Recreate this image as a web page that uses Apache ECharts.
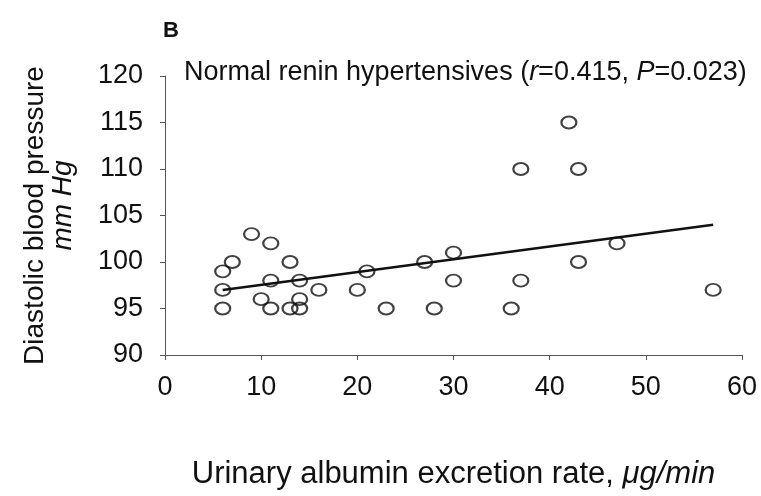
<!DOCTYPE html>
<html>
<head>
<meta charset="utf-8">
<script src="https://cdn.jsdelivr.net/npm/echarts@6/dist/echarts.min.js"></script>
<style>
  html, body { margin: 0; padding: 0; background: #fff; }
  #chart { width: 761px; height: 496px; }
</style>
</head>
<body>
<div id="chart"></div>
<script>
// Urinary albumin excretion rate (µg/min) vs diastolic blood pressure (mm Hg)
const albuminRate = [6, 6, 6, 7, 9, 10, 11, 11, 11, 13, 13, 14, 14, 14, 16, 20, 21, 23, 27, 28, 30, 30, 36, 37, 37, 42, 43, 43, 47, 57];
const diastolicBP = [95, 97, 99, 100, 103, 96, 102, 98, 95, 100, 95, 98, 96, 95, 97, 97, 99, 95, 100, 95, 101, 98, 95, 110, 98, 115, 110, 100, 102, 97];

// Fitted regression line end points
const fitX = [6, 57];
const fitY = [97.0, 104.0];

const xTicks = [0, 10, 20, 30, 40, 50, 60];
const yTicks = [90, 95, 100, 105, 110, 115, 120];

const points = albuminRate.map((x, i) => [x, diastolicBP[i]]);
const fitLine = fitX.map((x, i) => [x, fitY[i]]);

const FONT = 'Liberation Sans, Arial, Helvetica, sans-serif';
const INK = '#111';
const chart = echarts.init(document.getElementById('chart'), null, { renderer: 'canvas' });

chart.setOption({
  animation: false,
  backgroundColor: '#ffffff',
  grid: {
    left: 165, right: 19, top: 76, bottom: 141,
    containLabel: false,
    outerBoundsMode: 'none'
  },
  title: [
    {
      text: 'B',
      left: 158, top: 15,
      textStyle: { fontFamily: FONT, fontSize: 22, fontWeight: 'bold', color: INK }
    },
    {
      text: 'Normal renin hypertensives ({i|r}{n|=0.415, }{i|P}{n|=0.023)}',
      left: 179, top: 54,
      textStyle: {
        fontFamily: FONT, fontSize: 27, fontWeight: 'normal', color: INK,
        rich: {
          i: { fontFamily: FONT, fontSize: 27, fontStyle: 'italic', color: INK },
          n: { fontFamily: FONT, fontSize: 27, color: INK }
        }
      }
    }
  ],
  xAxis: {
    type: 'value',
    min: xTicks[0], max: xTicks[xTicks.length - 1], interval: 10,
    name: '{a|Urinary albumin excretion rate, }{b|μg/min}',
    nameLocation: 'middle',
    nameGap: 104,
    nameTextStyle: {
      rich: {
        a: { fontFamily: FONT, fontSize: 31, color: INK },
        b: { fontFamily: FONT, fontSize: 31, fontStyle: 'italic', color: INK }
      }
    },
    axisLine: { show: true, lineStyle: { color: '#555', width: 1 } },
    axisTick: { show: true, inside: false, length: 5, lineStyle: { color: '#555' } },
    axisLabel: { fontFamily: FONT, fontSize: 27, color: INK, margin: 19 },
    splitLine: { show: false }
  },
  yAxis: {
    type: 'value',
    min: yTicks[0], max: yTicks[yTicks.length - 1], interval: 5,
    name: '{a|Diastolic blood pressure}\n{b|mm Hg}',
    nameLocation: 'middle',
    nameRotate: 90,
    nameGap: 88,
    nameTextStyle: {
      align: 'center',
      rich: {
        a: { fontFamily: FONT, fontSize: 28, color: INK, lineHeight: 28, align: 'center' },
        b: {
          fontFamily: FONT, fontSize: 28, fontStyle: 'italic', color: INK, lineHeight: 28,
          align: 'center', padding: [0, 0, 0, 20]
        }
      }
    },
    axisLine: { show: true, lineStyle: { color: '#555', width: 1 } },
    axisTick: { show: true, inside: false, length: 5, lineStyle: { color: '#555' } },
    axisLabel: { fontFamily: FONT, fontSize: 27, color: INK, margin: 22 },
    splitLine: { show: false }
  },
  series: [
    {
      type: 'line',
      data: fitLine,
      symbol: 'none',
      lineStyle: { color: INK, width: 2.5 },
      z: 2
    },
    {
      type: 'scatter',
      data: points,
      symbol: 'circle',
      symbolSize: [15, 12],
      itemStyle: { color: 'rgba(255,255,255,0)', borderColor: INK, borderWidth: 2 },
      z: 3
    }
  ]
});
</script>
</body>
</html>
